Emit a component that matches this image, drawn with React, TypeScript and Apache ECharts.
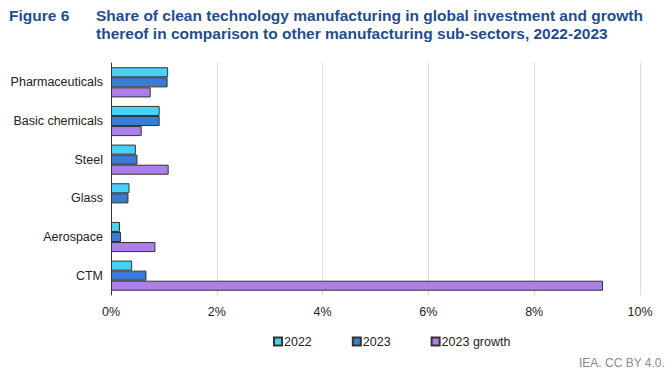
import React, { useEffect, useRef } from "react";
import * as echarts from "echarts";

const categories = ["Pharmaceuticals", "Basic chemicals", "Steel", "Glass", "Aerospace", "CTM"];
const share2022 = [1.08, 0.92, 0.47, 0.35, 0.17, 0.4];
const share2023 = [1.07, 0.92, 0.5, 0.33, 0.19, 0.67];
const growth2023 = [0.75, 0.58, 1.09, 0, 0.84, 9.3];
const xTicks = [0, 2, 4, 6, 8, 10];

export default function App() {
  const ref = useRef<HTMLDivElement>(null);
  useEffect(() => {
    const chart = echarts.init(ref.current!, null, { renderer: "svg" });
    const font = "'Liberation Sans', Arial, sans-serif";
    const mk = (name: string, data: number[], color: string) => ({
      name,
      type: "bar",
      data: data.map((v) => (v === 0 ? { value: v, itemStyle: { borderWidth: 0 } } : v)),
      barGap: "0%",
      barCategoryGap: "22%",
      itemStyle: { color, borderColor: "#333", borderWidth: 1 },
    });
    chart.setOption({
      animation: false,
      textStyle: { fontFamily: font },
      graphic: [
        {
          type: "text",
          left: 9,
          top: 7,
          style: { text: "Figure 6", fill: "#1F4E8C", font: `bold 15.5px ${font}` },
        },
        {
          type: "text",
          left: 96,
          top: 6,
          style: {
            text: "Share of clean technology manufacturing in global investment and growth\nthereof in comparison to other manufacturing sub-sectors, 2022-2023",
            fill: "#1F4E8C",
            font: `bold 15.5px ${font}`,
            lineHeight: 18,
          },
        },
        {
          type: "text",
          right: 7,
          top: 357,
          style: { text: "IEA. CC BY 4.0.", fill: "#8a8a8a", font: `12px ${font}` },
        },
      ],
      legend: {
        bottom: 19,
        left: 268,
        itemWidth: 8,
        itemHeight: 8,
        itemGap: 40,
        icon: "rect",
        textStyle: { fontSize: 12.5, color: "#222", padding: [0, 0, 0, -3] },
        data: ["2022", "2023", "2023 growth"],
      },
      grid: { left: 111, right: 32, top: 63, bottom: 77, containLabel: false },
      xAxis: {
        type: "value",
        min: xTicks[0],
        max: xTicks[xTicks.length - 1],
        interval: 2,
        axisLabel: { formatter: "{value}%", color: "#222", fontSize: 12.5, margin: 10 },
        splitLine: { show: true, lineStyle: { color: "#d9d9d9" } },
        axisLine: { show: false },
        axisTick: { show: false },
      },
      yAxis: {
        type: "category",
        data: categories,
        inverse: true,
        axisLabel: { color: "#222", fontSize: 12.5, margin: 8 },
        axisLine: { show: true, lineStyle: { color: "#333" } },
        axisTick: { show: false },
      },
      series: [
        mk("2022", share2022, "#48D1F7"),
        mk("2023", share2023, "#3B7BD4"),
        mk("2023 growth", growth2023, "#AC7FEB"),
      ],
    });
    return () => chart.dispose();
  }, []);
  return <div ref={ref} style={{ width: 672, height: 372, position: "absolute", left: 0, top: 0 }} />;
}
